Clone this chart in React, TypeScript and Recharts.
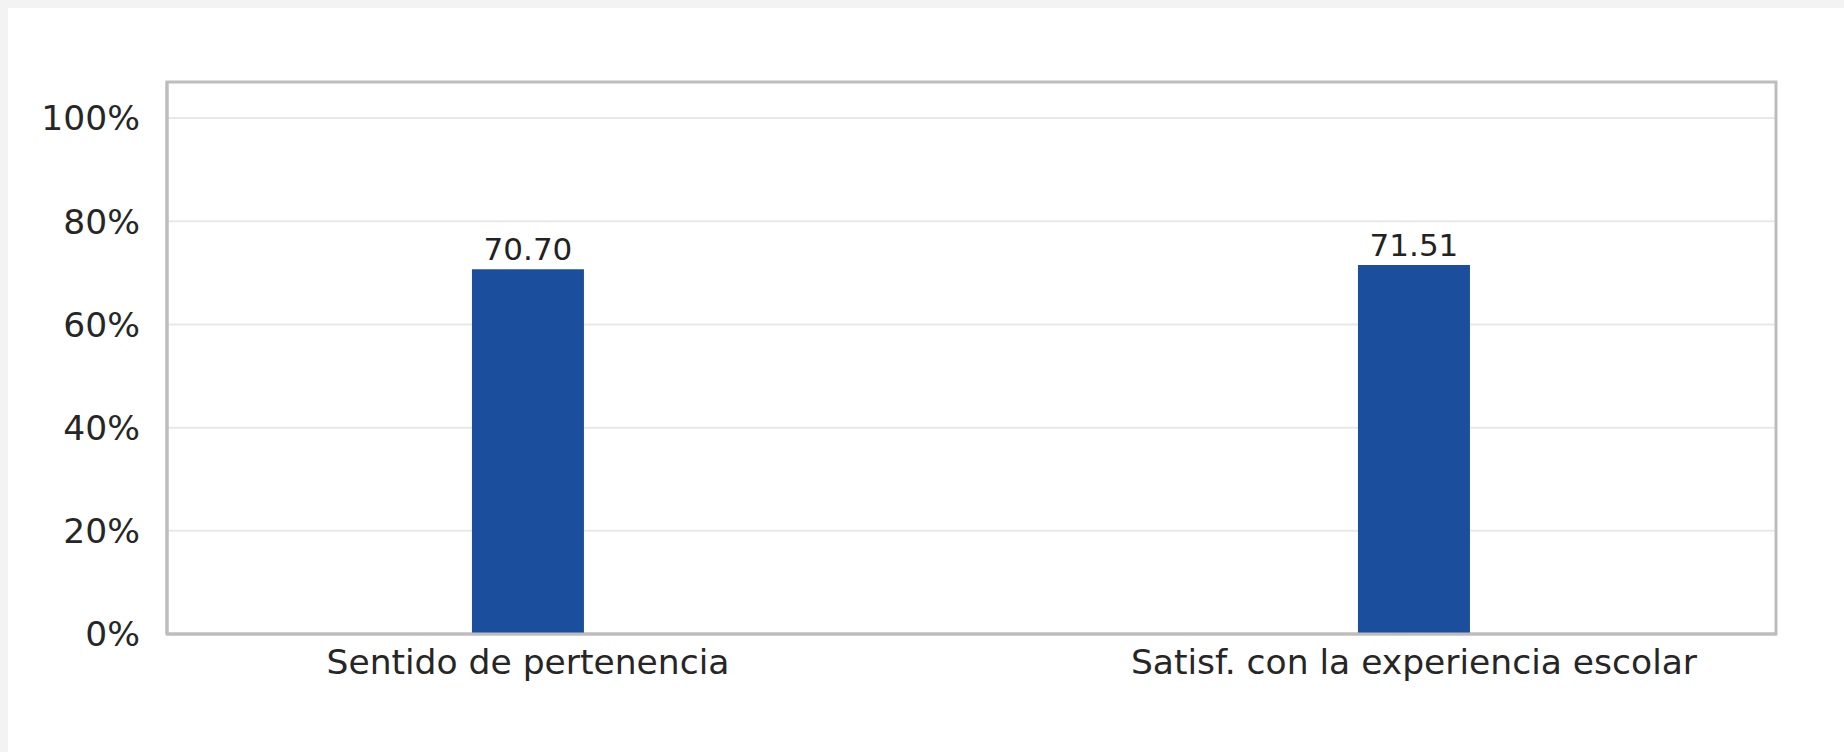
import { Bar, BarChart, CartesianGrid, LabelList, ReferenceArea, XAxis, YAxis } from 'recharts';

const categories = ['Sentido de pertenencia', 'Satisf. con la experiencia escolar'];
const values = [70.7, 71.51];
const yTicks = [0, 20, 40, 60, 80, 100];

const data = categories.map((name, i) => ({ idx: i, name, value: values[i] }));

const font = 'DejaVu Sans, Verdana, sans-serif';
const frame = '#bdbdbd';

export default function App() {
  return (
    <div
      style={{
        position: 'fixed',
        left: 0,
        top: 0,
        width: 1844,
        height: 752,
        background: '#f3f3f3',
      }}
    >
      <div
        style={{
          position: 'absolute',
          left: 8,
          top: 8,
          width: 1836,
          height: 744,
          background: '#ffffff',
        }}
      >
        <BarChart
          width={1836}
          height={744}
          data={data}
          margin={{ top: 74, right: 68, left: 0, bottom: 0 }}
        >
          <CartesianGrid
            vertical={false}
            stroke='#e8e8e8'
            strokeWidth={2}
          />
          <XAxis
            dataKey='idx'
            type='number'
            domain={[-0.4074, 1.4086]}
            ticks={[0, 1]}
            allowDataOverflow
            tickFormatter={(i) => categories[i] ?? ''}
            height={118}
            tickLine={false}
            tickSize={14}
            tickMargin={2}
            axisLine={{ stroke: frame, strokeWidth: 3 }}
            tick={{ fontSize: 34.5, fill: '#262626', fontFamily: font }}
          />
          <YAxis
            domain={[0, 107]}
            ticks={yTicks}
            width={159}
            tickLine={false}
            tickSize={27}
            tickMargin={0}
            tickFormatter={(v) => `${v}%`}
            axisLine={{ stroke: frame, strokeWidth: 3 }}
            tick={{ fontSize: 34.5, fill: '#262626', fontFamily: font }}
          />
          {/* plot frame */}
          <ReferenceArea
            y1={0}
            y2={107}
            fill='none'
            stroke={frame}
            strokeWidth={3}
          />
          <Bar
            dataKey='value'
            fill='#1b4f9e'
            barSize={112}
            isAnimationActive={false}
          >
            <LabelList
              dataKey='value'
              position='top'
              offset={9}
              formatter={(v: number) => v.toFixed(2)}
              style={{ fontSize: 31, fill: '#222222', fontFamily: font }}
            />
          </Bar>
        </BarChart>
      </div>
    </div>
  );
}
